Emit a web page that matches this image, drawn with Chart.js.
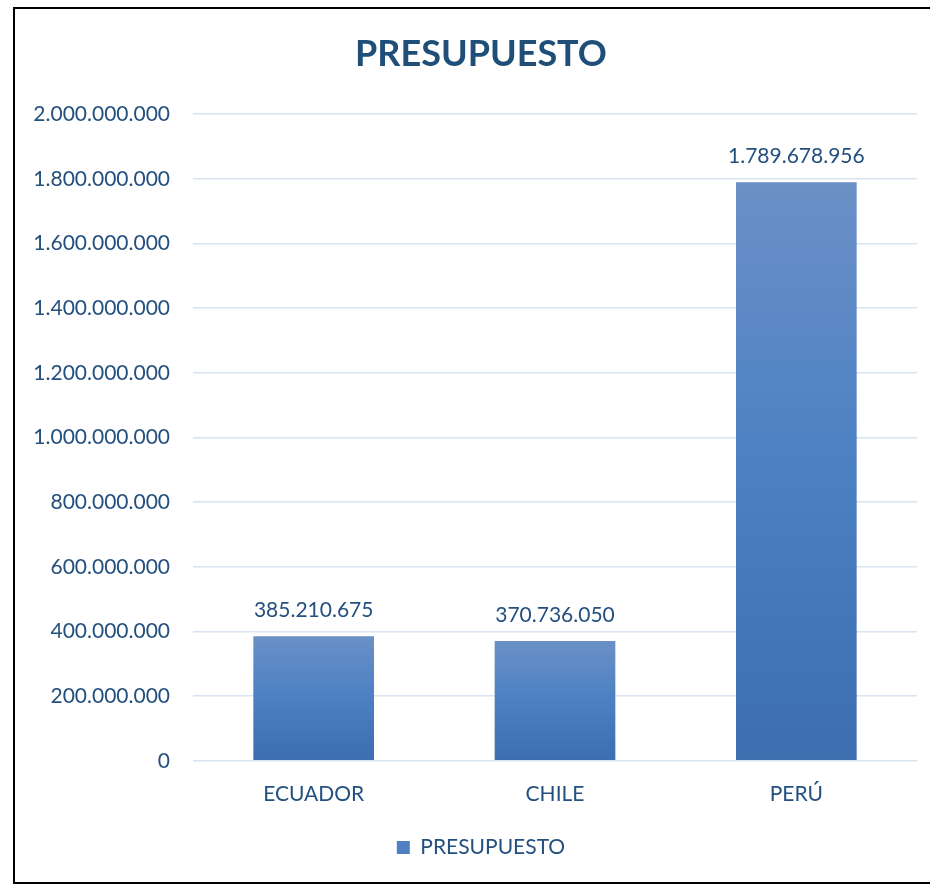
<!DOCTYPE html>
<html>
<head>
<meta charset="utf-8">
<script src="https://cdn.jsdelivr.net/npm/chart.js@4/dist/chart.umd.min.js"></script>
<style>
  html, body { margin: 0; padding: 0; background: #fff; overflow: hidden; }
  #wrap { position: relative; width: 930px; height: 884px; overflow: hidden; }
  #frame { position: absolute; left: 13px; top: 7px; width: 1000px; height: 873px; border: 2px solid #000; }
  canvas { position: absolute; left: 0; top: 0; }
</style>
</head>
<body>
<div id="wrap">
  <div id="frame"></div>
  <canvas id="myChart" width="962" height="884"></canvas>
</div>
<script>
const categories = ['ECUADOR', 'CHILE', 'PERÚ']
const presupuesto = [385210675, 370736050, 1789678956]
const seriesName = 'PRESUPUESTO'
const yTicks = [0, 200000000, 400000000, 600000000, 800000000, 1000000000, 1200000000, 1400000000, 1600000000, 1800000000, 2000000000]

const textColor = '#24507F'
const fmt = v => String(v).replace(/\B(?=(\d{3})+(?!\d))/g, '.')

// bar fill: light at the top, darker at the base
function barFill(c) {
  const chart = c.chart
  const y = chart.scales.y
  if (!chart.chartArea || !y || c.raw === undefined) return '#4A7DC0'
  const top = y.getPixelForValue(c.raw)
  const base = y.getPixelForValue(0)
  const g = chart.ctx.createLinearGradient(0, top, 0, base)
  g.addColorStop(0, '#6B90C7')
  g.addColorStop(0.5, '#4B80C3')
  g.addColorStop(1, '#3C6EB0')
  return g
}

const valueLabels = {
  id: 'valueLabels',
  afterDatasetsDraw(chart) {
    const ctx = chart.ctx
    const meta = chart.getDatasetMeta(0)
    ctx.save()
    ctx.font = '21px Lato'
    ctx.fillStyle = textColor
    ctx.textAlign = 'center'
    ctx.textBaseline = 'middle'
    meta.data.forEach((bar, i) => {
      ctx.fillText(fmt(presupuesto[i]), bar.x, bar.y - 26)
    })
    ctx.restore()
  }
}

const ctx = document.querySelector('#myChart')
new Chart(ctx, {
  type: 'bar',
  data: {
    labels: categories,
    datasets: [{
      label: seriesName,
      data: presupuesto,
      backgroundColor: barFill,
      barPercentage: 0.5,
      categoryPercentage: 1
    }]
  },
  options: {
    responsive: false,
    animation: false,
    layout: { padding: { left: 0, right: 0, top: 0, bottom: 16 } },
    plugins: {
      title: {
        display: true,
        text: 'PRESUPUESTO',
        color: '#1F4E79',
        font: { family: 'Lato', size: 36, weight: 'bold' },
        padding: { top: 33, bottom: 38 }
      },
      legend: {
        position: 'bottom',
        labels: {
          color: textColor,
          font: { family: 'Lato', size: 21 },
          boxWidth: 13,
          boxHeight: 13,
          padding: 9,
          generateLabels: () => [{
            text: seriesName,
            fillStyle: '#4F80C2',
            strokeStyle: '#4F80C2',
            lineWidth: 0,
            hidden: false,
            datasetIndex: 0,
            fontColor: textColor
          }]
        }
      },
      tooltip: { enabled: false }
    },
    scales: {
      x: {
        grid: { display: false, drawTicks: false },
        border: { display: false },
        ticks: { color: textColor, font: { family: 'Lato', size: 21 }, padding: 21 }
      },
      y: {
        min: 0,
        max: 2000000000,
        afterBuildTicks: scale => { scale.ticks = yTicks.map(v => ({ value: v })) },
        afterFit: scale => { scale.width = 193 },
        grid: { color: '#D9E3F2', lineWidth: 1.5, drawTicks: false },
        border: { display: false },
        ticks: {
          color: textColor,
          font: { family: 'Lato', size: 21 },
          padding: 23,
          callback: v => fmt(v)
        }
      },
      // empty right-hand spacer so the plot ends at x=917 while title/legend centre on the wider frame
      spacer: {
        type: 'linear',
        position: 'right',
        display: true,
        grid: { display: false, drawTicks: false },
        border: { display: false },
        ticks: { display: false },
        afterFit: scale => { scale.width = 45 }
      }
    }
  },
  plugins: [valueLabels]
})
</script>
</body>
</html>
